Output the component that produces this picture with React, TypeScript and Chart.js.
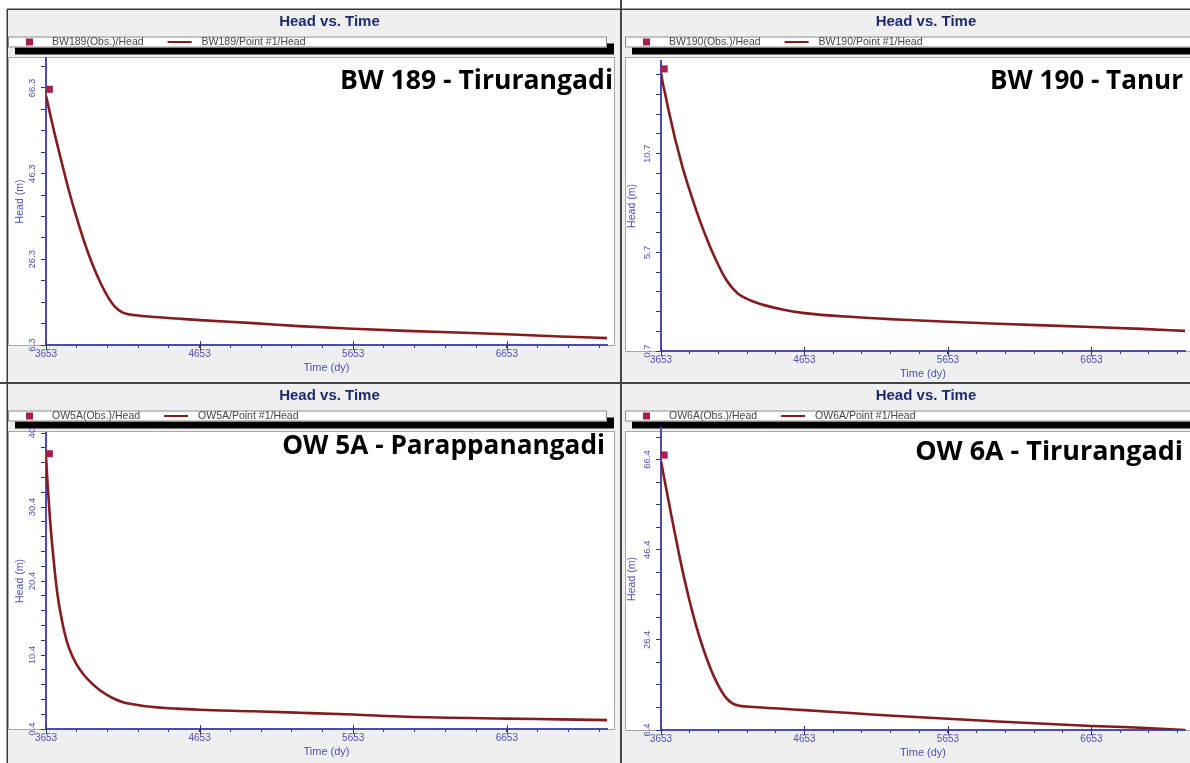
import React, { useEffect, useRef } from 'react';
import { Chart, registerables } from 'chart.js';

Chart.register(...registerables);

// ---------------- DATA ----------------
const CHART_TITLE = 'Head vs. Time';
const X_AXIS_TITLE = 'Time (dy)';
const Y_AXIS_TITLE = 'Head (m)';

const TIME_MIN = 3653;
const TIME_MAX = 7305;
const TIME_MAJOR_TICKS = [3653, 4653, 5653, 6653];
const TIME_TICK_LABELS = ['3653', '4653', '5653', '6653'];
const TIME_MINOR_STEP = 200;

const SIM_DAYS = [3653, 3665, 3680, 3700, 3725, 3750, 3775, 3800, 3850, 3900, 3950, 4000, 4050, 4100, 4150, 4200, 4300, 4500, 4653, 5000, 5300, 5653, 6000, 6653, 7000, 7305];
const OBS_DAYS = [3675];

// BW 189 - Tirurangadi
const BW189_SIM = [64.5, 62.6, 60.2, 57.0, 53.3, 49.7, 46.1, 42.6, 36.3, 30.6, 25.6, 21.4, 17.9, 15.3, 13.9, 13.4, 13.0, 12.5, 12.1, 11.4, 10.7, 10.1, 9.6, 8.8, 8.3, 7.9];
const BW189_OBS = [66.0];
const BW189_Y_RANGE = [6.3, 73.3];
const BW189_Y_MAJOR = [6.3, 26.3, 46.3, 66.3];
const BW189_Y_LABELS = ['6.3', '26.3', '46.3', '66.3'];
const BW189_Y_MINOR_STEP = 5;

// BW 190 - Tanur
const BW190_SIM = [14.8, 14.3, 13.8, 13.1, 12.3, 11.5, 10.8, 10.1, 8.9, 7.8, 6.8, 5.9, 5.1, 4.4, 3.9, 3.55, 3.2, 2.8, 2.62, 2.42, 2.3, 2.18, 2.08, 1.92, 1.82, 1.72];
const BW190_OBS = [15.0];
const BW190_Y_RANGE = [0.7, 15.4];
const BW190_Y_MAJOR = [0.7, 5.7, 10.7];
const BW190_Y_LABELS = ['0.7', '5.7', '10.7'];
const BW190_Y_MINOR_STEP = 1;

// OW 5A - Parappanangadi
const OW5A_SIM = [37.2, 33.0, 28.5, 23.8, 19.0, 15.8, 13.3, 11.5, 9.2, 7.7, 6.6, 5.7, 5.0, 4.45, 4.05, 3.8, 3.48, 3.15, 3.0, 2.8, 2.6, 2.35, 2.05, 1.8, 1.7, 1.6];
const OW5A_OBS = [37.6];
const OW5A_Y_RANGE = [0.4, 40.4];
const OW5A_Y_MAJOR = [0.4, 10.4, 20.4, 30.4, 40.4];
const OW5A_Y_LABELS = ['0.4', '10.4', '20.4', '30.4', '40'];
const OW5A_Y_MINOR_STEP = 2;

// OW 6A - Tirurangadi
const OW6A_SIM = [66.0, 64.0, 61.5, 58.2, 54.0, 50.0, 46.0, 42.2, 35.3, 29.3, 24.2, 19.9, 16.4, 13.8, 12.3, 11.8, 11.5, 11.1, 10.8, 10.1, 9.5, 8.9, 8.3, 7.3, 6.9, 6.4];
const OW6A_OBS = [67.4];
const OW6A_Y_RANGE = [6.4, 73.4];
const OW6A_Y_MAJOR = [6.4, 26.4, 46.4, 66.4];
const OW6A_Y_LABELS = ['6.4', '26.4', '46.4', '66.4'];
const OW6A_Y_MINOR_STEP = 5;

const WELLS = ['BW189', 'BW190', 'OW5A', 'OW6A'];
const WELL_NAMES = ['BW 189 - Tirurangadi', 'BW 190 - Tanur', 'OW 5A - Parappanangadi', 'OW 6A - Tirurangadi'];

// ---------------- STYLE / LAYOUT ----------------
const FONT = '"Liberation Sans", Arial, sans-serif';
const AXIS_BLUE = '#4b4bb0';
const LABEL_BLUE = '#4f4fb4';
const TICK_COLOR = '#34346a';
const LINE_COLOR = '#841c1f';
const OBS_COLOR = '#a81f4b';
const TITLE_COLOR = '#1f2a6b';

type Layout = {
  left: number; top: number; width: number; height: number;
  pad: { left: number; right: number; top: number; bottom: number };
  yWidth: number; yTitlePad: number; panelTop: number;
  topBorder: number | null; leftBorder: number | null;
  legendLeft: number; legendRight: number; frameLeft: number; frameRight: number;
  wellBox: [number, number, number];
};

const LAYOUTS: Layout[] = [
  { left: 0, top: 0, width: 620, height: 382, pad: { left: 8, right: 13, top: 58, bottom: 7 }, yWidth: 38, yTitlePad: 6, panelTop: 9, topBorder: 9, leftBorder: 7, legendLeft: 8, legendRight: 607, frameLeft: 8, frameRight: 615, wellBox: [340, 613, 79] },
  { left: 622, top: 0, width: 568, height: 382, pad: { left: 3, right: 0, top: 61, bottom: 1 }, yWidth: 36, yTitlePad: 1, panelTop: 9, topBorder: 9, leftBorder: null, legendLeft: 3, legendRight: 600, frameLeft: 3, frameRight: 570, wellBox: [368, 561, 80] },
  { left: 0, top: 384, width: 620, height: 379, pad: { left: 8, right: 13, top: 49, bottom: 4 }, yWidth: 38, yTitlePad: 6, panelTop: -1, topBorder: null, leftBorder: 7, legendLeft: 8, legendRight: 607, frameLeft: 8, frameRight: 615, wellBox: [282, 605, 61] },
  { left: 622, top: 384, width: 568, height: 379, pad: { left: 3, right: 0, top: 44, bottom: 3 }, yWidth: 36, yTitlePad: 1, panelTop: -1, topBorder: null, leftBorder: null, legendLeft: 3, legendRight: 600, frameLeft: 3, frameRight: 570, wellBox: [293, 561, 66] },
];

const PANELS = [
  { sim: BW189_SIM, obs: BW189_OBS, range: BW189_Y_RANGE, major: BW189_Y_MAJOR, labels: BW189_Y_LABELS, step: BW189_Y_MINOR_STEP },
  { sim: BW190_SIM, obs: BW190_OBS, range: BW190_Y_RANGE, major: BW190_Y_MAJOR, labels: BW190_Y_LABELS, step: BW190_Y_MINOR_STEP },
  { sim: OW5A_SIM, obs: OW5A_OBS, range: OW5A_Y_RANGE, major: OW5A_Y_MAJOR, labels: OW5A_Y_LABELS, step: OW5A_Y_MINOR_STEP },
  { sim: OW6A_SIM, obs: OW6A_OBS, range: OW6A_Y_RANGE, major: OW6A_Y_MAJOR, labels: OW6A_Y_LABELS, step: OW6A_Y_MINOR_STEP },
];

const chromePlugin = {
  id: 'chrome',
  beforeDraw(chart: any, _a: any, opts: any) {
    const L: Layout = opts.layout;
    const { ctx, width, height, chartArea } = chart;
    ctx.save();
    ctx.fillStyle = '#efefef';
    ctx.fillRect(0, 0, width, height);
    if (L.topBorder != null) {
      ctx.fillStyle = '#ffffff';
      ctx.fillRect(0, 0, width, L.topBorder);
      ctx.fillStyle = '#3a3a3a';
      ctx.fillRect(0, L.topBorder - 0.5, width, 1.5);
    }
    if (L.leftBorder != null) {
      ctx.fillStyle = '#ffffff';
      ctx.fillRect(0, 0, L.leftBorder, height);
      ctx.fillStyle = '#3a3a3a';
      ctx.fillRect(L.leftBorder - 0.5, L.topBorder != null ? L.topBorder : 0, 1.5, height);
    }
    // title
    ctx.font = `bold 15px ${FONT}`;
    ctx.fillStyle = TITLE_COLOR;
    ctx.textAlign = 'center';
    ctx.textBaseline = 'middle';
    ctx.fillText(CHART_TITLE, (chartArea.left + chartArea.right) / 2 + 3, L.panelTop + 13);
    // legend box with shadow
    const bx = L.legendLeft, by = L.panelTop + 27.5, bw = L.legendRight - L.legendLeft, bh = 11;
    ctx.fillStyle = '#000';
    ctx.fillRect(bx + 7, by + 7, bw, bh);
    ctx.fillStyle = '#fff';
    ctx.fillRect(bx, by, bw, bh);
    ctx.strokeStyle = '#8a8a8a';
    ctx.lineWidth = 1;
    ctx.strokeRect(bx + 0.5, by + 0.5, bw - 1, bh - 1);
    const ly = by + bh / 2;
    const ds = chart.data.datasets;
    ctx.fillStyle = OBS_COLOR;
    ctx.fillRect(bx + 18, ly - 3.5, 7, 7);
    ctx.font = `10.5px ${FONT}`;
    ctx.fillStyle = '#464646';
    ctx.textAlign = 'left';
    ctx.fillText(ds[0].label, bx + 44, ly + 0.5);
    const t1end = bx + 44 + ctx.measureText(ds[0].label).width;
    ctx.strokeStyle = LINE_COLOR;
    ctx.lineWidth = 2;
    ctx.beginPath();
    ctx.moveTo(t1end + 24, ly);
    ctx.lineTo(t1end + 48, ly);
    ctx.stroke();
    ctx.fillText(ds[1].label, t1end + 58, ly + 0.5);
    // plot frame
    const ft = L.panelTop + 48;
    ctx.fillStyle = '#ffffff';
    ctx.fillRect(L.frameLeft, ft, L.frameRight - L.frameLeft, chartArea.bottom - ft);
    ctx.strokeStyle = '#a8a8a8';
    ctx.lineWidth = 1;
    ctx.strokeRect(L.frameLeft + 0.5, ft + 0.5, L.frameRight - L.frameLeft - 1, chartArea.bottom - ft);
    ctx.restore();
  },
  afterDraw(chart: any, _a: any, opts: any) {
    const L: Layout = opts.layout;
    const { ctx, chartArea, scales } = chart;
    ctx.save();
    // x major ticks extend into plot
    ctx.strokeStyle = TICK_COLOR;
    ctx.lineWidth = 1;
    TIME_MAJOR_TICKS.forEach((v) => {
      const px = Math.round(scales.x.getPixelForValue(v)) + 0.5;
      ctx.beginPath();
      ctx.moveTo(px, chartArea.bottom - 4);
      ctx.lineTo(px, chartArea.bottom + 5);
      ctx.stroke();
    });
    // rotated y tick labels
    ctx.font = `9.5px ${FONT}`;
    ctx.fillStyle = LABEL_BLUE;
    ctx.textAlign = 'center';
    ctx.textBaseline = 'middle';
    (opts.yMajor as number[]).forEach((v, i) => {
      const py = scales.y.getPixelForValue(v);
      ctx.save();
      ctx.translate(chartArea.left - 14, py);
      ctx.rotate(-Math.PI / 2);
      ctx.fillText(opts.yLabels[i], 0, 0);
      ctx.restore();
    });
    // well name
    const [x0, x1, cy] = L.wellBox;
    const base = 24;
    ctx.font = `bold ${base}px "Open Sans", Lato, sans-serif`;
    const w = ctx.measureText(opts.wellName).width;
    const size = base * (x1 - x0) / w;
    ctx.font = `bold ${size}px "Open Sans", Lato, sans-serif`;
    ctx.fillStyle = '#000';
    ctx.textAlign = 'right';
    ctx.textBaseline = 'alphabetic';
    ctx.fillText(opts.wellName, x1, cy + size * 0.36);
    ctx.restore();
  },
};

function Panel({ idx }: { idx: number }) {
  const ref = useRef<HTMLCanvasElement | null>(null);
  const L = LAYOUTS[idx];
  useEffect(() => {
    const P = PANELS[idx];
    const well = WELLS[idx];
    const xTicks: number[] = [];
    for (let v = TIME_MIN; v <= TIME_MAX; v += TIME_MINOR_STEP) xTicks.push(v);
    const yTicks: number[] = [];
    for (let k = 0; P.range[0] + k * P.step <= P.range[1] + 1e-9; k++) yTicks.push(Number((P.range[0] + k * P.step).toFixed(3)));
    const chart = new Chart(ref.current as HTMLCanvasElement, {
      type: 'line',
      data: {
        datasets: [
          {
            type: 'scatter',
            label: `${well}(Obs.)/Head`,
            data: OBS_DAYS.map((d, i) => ({ x: d, y: P.obs[i] })),
            pointStyle: 'rect',
            pointRadius: 5,
            backgroundColor: OBS_COLOR,
            borderWidth: 0,
            clip: false,
          } as any,
          {
            type: 'line',
            label: `${well}/Point #1/Head`,
            data: SIM_DAYS.map((d, i) => ({ x: d, y: P.sim[i] })),
            borderColor: LINE_COLOR,
            borderWidth: 2.6,
            pointRadius: 0,
            fill: false,
            cubicInterpolationMode: 'monotone',
          },
        ],
      },
      options: {
        animation: false,
        responsive: false,
        maintainAspectRatio: false,
        events: [],
        layout: { padding: L.pad },
        plugins: {
          legend: { display: false },
          title: { display: false },
          tooltip: { enabled: false },
          chrome: { layout: L, yMajor: P.major, yLabels: P.labels, wellName: WELL_NAMES[idx] },
        } as any,
        scales: {
          x: {
            type: 'linear',
            min: TIME_MIN,
            max: TIME_MAX,
            afterBuildTicks: (s: any) => { s.ticks = xTicks.map((v) => ({ value: v })); },
            afterFit: (s: any) => { s.height = 30; },
            border: { display: true, color: AXIS_BLUE, width: 2 },
            grid: { display: true, drawOnChartArea: false, drawTicks: true, tickLength: 3, color: TICK_COLOR, lineWidth: 1 },
            ticks: {
              autoSkip: false, maxRotation: 0, minRotation: 0, padding: 0,
              color: LABEL_BLUE, font: { size: 10, family: FONT },
              callback: (v: any) => { const i = TIME_MAJOR_TICKS.indexOf(Number(v)); return i >= 0 ? TIME_TICK_LABELS[i] : ''; },
            },
            title: { display: true, text: X_AXIS_TITLE, color: LABEL_BLUE, font: { size: 11, family: FONT }, padding: { top: 0, bottom: 0 } },
          },
          y: {
            type: 'linear',
            min: P.range[0],
            max: P.range[1],
            afterBuildTicks: (s: any) => { s.ticks = yTicks.map((v) => ({ value: v })); },
            afterFit: (s: any) => { s.width = L.yWidth; },
            border: { display: true, color: AXIS_BLUE, width: 2 },
            grid: { display: true, drawOnChartArea: false, drawTicks: true, tickLength: 5, color: TICK_COLOR, lineWidth: 1 },
            ticks: { display: false },
            title: { display: true, text: Y_AXIS_TITLE, color: LABEL_BLUE, font: { size: 10.5, family: FONT }, padding: { top: L.yTitlePad, bottom: 0 } },
          },
        },
      } as any,
      plugins: [chromePlugin as any],
    });
    return () => chart.destroy();
  }, [idx]);
  return (
    <canvas
      ref={ref}
      width={L.width}
      height={L.height}
      style={{ position: 'absolute', left: L.left, top: L.top, width: L.width, height: L.height, display: 'block' }}
    />
  );
}

export default function App() {
  return (
    <div style={{ position: 'fixed', left: 0, top: 0, width: 1190, height: 763, background: '#444', overflow: 'hidden' }}>
      {[0, 1, 2, 3].map((i) => <Panel key={i} idx={i} />)}
    </div>
  );
}
